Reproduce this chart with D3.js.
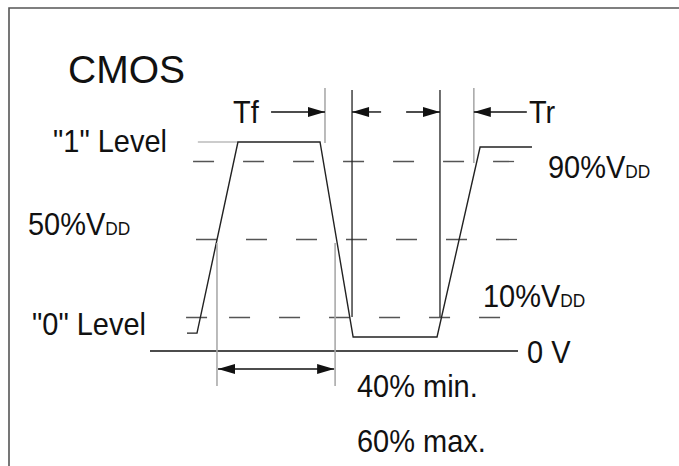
<!DOCTYPE html>
<html>
<head>
<meta charset="utf-8">
<script src="https://cdn.jsdelivr.net/npm/d3@7"></script>
<style>
  html, body { margin: 0; padding: 0; background: #fff; }
  svg { display: block; }
  text { font-family: "Liberation Sans", Arial, Helvetica, sans-serif; fill: #111; }
</style>
</head>
<body>
<svg id="chart" width="679" height="466"></svg>
<script>
// ---- data (time in arbitrary units 0..100, level as fraction of VDD) ----
const waveT = [10.05, 12.77, 23.9, 46.2, 55.2, 78.0, 89.7, 103.8];
const waveV = [0.02, 0.02, 1.0, 1.0, 0.0, 0.0, 0.974, 0.974];

const refLevels = [0.9, 0.5, 0.1];          // dashed threshold lines
const refStart  = [11.7, 12.5, 9.8];
const refEnd    = [99.2, 100, 95.7];

const oneLevelT = [13.0, 23.9];              // grey "1" level reference
const zeroVoltV = -0.072;                    // 0 V line
const zeroVoltT = [0, 100];

// vertical marker lines: time, top level, bottom level, colour class
const markT   = [47.55, 54.9, 78.8, 88.0, 18.2, 50.3];
const markTop = [1.277, 1.267, 1.267, 1.277, 0.482, 0.482];
const markBot = [0.995, 0.103, 0.103, 0.892, -0.251, -0.251];
const markGrey = [true, false, false, true, true, true];

// arrows: tail time, head time, level
const arrowTail = [32.9, 62.8, 69.6, 102.4];
const arrowHead = [47.55, 54.9, 78.8, 88.0];
const arrowV = 1.154;
const dblArrow = [18.2, 50.3];
const dblArrowV = -0.164;

// ---- scales ----
const x = d3.scaleLinear().domain([0, 100]).range([150, 518]);
const y = d3.scaleLinear().domain([0, 1]).range([337, 142]);

const svg = d3.select("#chart");

// frame
svg.append("path")
  .attr("d", "M9,466 L9,8 L679,8")
  .attr("fill", "none").attr("stroke", "#555").attr("stroke-width", 1.6);

// dashed reference lines
const dashPatterns = ["21,29", "21,29", "21,22,21,29,21,29,21,29,21,29,21,29,21,29,21,29"];
refLevels.forEach((v, i) => {
  svg.append("line")
    .attr("x1", x(refStart[i])).attr("x2", x(refEnd[i]))
    .attr("y1", y(v)).attr("y2", y(v))
    .attr("stroke", "#555").attr("stroke-width", 1.3)
    .attr("stroke-dasharray", dashPatterns[i]);
});

// grey "1" level line
svg.append("line")
  .attr("x1", x(oneLevelT[0])).attr("x2", x(oneLevelT[1]))
  .attr("y1", y(1)).attr("y2", y(1))
  .attr("stroke", "#999").attr("stroke-width", 1.2);

// 0 V line
svg.append("line")
  .attr("x1", x(zeroVoltT[0])).attr("x2", x(zeroVoltT[1]))
  .attr("y1", y(zeroVoltV)).attr("y2", y(zeroVoltV))
  .attr("stroke", "#111").attr("stroke-width", 1.4);

// waveform
const line = d3.line().x(d => x(d[0])).y(d => y(d[1]));
svg.append("path")
  .datum(waveT.map((t, i) => [t, waveV[i]]))
  .attr("d", line)
  .attr("fill", "none").attr("stroke", "#222").attr("stroke-width", 1.4)
  .attr("stroke-linejoin", "miter");

// vertical markers
markT.forEach((t, i) => {
  svg.append("line")
    .attr("x1", x(t)).attr("x2", x(t))
    .attr("y1", y(markTop[i])).attr("y2", y(markBot[i]))
    .attr("stroke", markGrey[i] ? "#aaa" : "#222")
    .attr("stroke-width", markGrey[i] ? 1.6 : 1.3);
});

// arrowheads
function head(px, py, dir) { // dir: +1 points right, -1 points left
  const L = 17, W = 5;
  svg.append("path")
    .attr("d", `M${px},${py} L${px - dir * L},${py - W} L${px - dir * L},${py + W} Z`)
    .attr("fill", "#111");
}
arrowTail.forEach((t, i) => {
  const xt = x(t), xh = x(arrowHead[i]), yy = y(arrowV);
  svg.append("line").attr("x1", xt).attr("x2", xh).attr("y1", yy).attr("y2", yy)
    .attr("stroke", "#111").attr("stroke-width", 1.4);
  head(xh, yy, xh > xt ? 1 : -1);
});
{
  const x1 = x(dblArrow[0]) + 1, x2 = x(dblArrow[1]) - 1, yy = y(dblArrowV);
  svg.append("line").attr("x1", x1).attr("x2", x2).attr("y1", yy).attr("y2", yy)
    .attr("stroke", "#111").attr("stroke-width", 1.4);
  head(x1, yy, -1);
  head(x2, yy, 1);
}

// ---- texts ----
function label(tx, ty, main, sub, size, sx) {
  const t = svg.append("text")
    .attr("transform", `translate(${tx},${ty}) scale(${sx || 0.935},1)`)
    .attr("font-size", size || 31);
  t.append("tspan").text(main);
  if (sub) t.append("tspan").attr("font-size", 18.5).text(sub);
  return t;
}
label(68, 83, "CMOS", null, 39, 1);
label(233, 123, "Tf");
label(529, 123, "Tr");
label(53, 152, "\"1\" Level");
label(548, 178, "90%V", "DD");
label(28, 235, "50%V", "DD");
label(483, 307, "10%V", "DD");
label(32, 335, "\"0\" Level");
label(527, 363, "0 V");
label(357, 397, "40% min.");
label(357, 452, "60% max.");
</script>
</body>
</html>
